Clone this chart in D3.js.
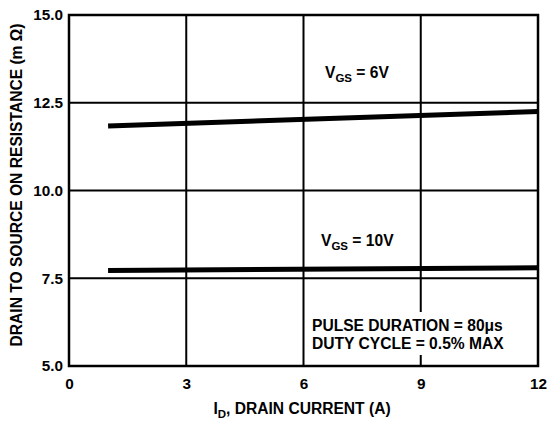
<!DOCTYPE html>
<html><head><meta charset="utf-8">
<script src="https://cdn.jsdelivr.net/npm/d3@7"></script>
<style>body{margin:0;background:#fff}text{font-family:"Liberation Sans",Arial,sans-serif;font-weight:bold;fill:#000}</style>
</head><body><svg id="c" width="551" height="422"></svg>
<script>
const xTicks = [0, 3, 6, 9, 12];
const yTicks = [5.0, 7.5, 10.0, 12.5, 15.0];
const curve6V_x = [1, 12];
const curve6V_y = [11.84, 12.25];
const curve10V_x = [1, 12];
const curve10V_y = [7.72, 7.80];

const svg = d3.select("#c");
const L = 69, R = 538, T = 15, B = 366;
const x = d3.scaleLinear().domain([0, 12]).range([L, R]);
const y = d3.scaleLinear().domain([5, 15]).range([B, T]);
const FS = 15.6;

// grid
const g = svg.append("g");
g.selectAll(".vg").data(xTicks).enter().append("line")
  .attr("x1", d => x(d)).attr("x2", d => x(d)).attr("y1", T).attr("y2", B)
  .attr("stroke", "#000").attr("stroke-width", 2);
g.selectAll(".hg").data(yTicks).enter().append("line")
  .attr("x1", L).attr("x2", R).attr("y1", d => y(d)).attr("y2", d => y(d))
  .attr("stroke", "#000").attr("stroke-width", 2);

const FF = '"Liberation Sans",Arial,sans-serif';
// axes labels
const xa = d3.axisBottom(x).tickValues(xTicks).tickSize(0).tickPadding(12).tickFormat(d3.format("d"));
const xg = svg.append("g").attr("transform", `translate(0,${B})`).call(xa);
xg.select(".domain").remove();
xg.selectAll("text").attr("font-size", 15.3).style("font-family", FF).style("font-weight", "bold");
const ya = d3.axisLeft(y).tickValues(yTicks).tickSize(0).tickPadding(6).tickFormat(d3.format(".1f"));
const yg = svg.append("g").attr("transform", `translate(${L},0)`).call(ya);
yg.select(".domain").remove();
yg.selectAll("text").attr("font-size", 15.3).style("font-family", FF).style("font-weight", "bold");

// note box (white background)
svg.append("rect").attr("x", 310).attr("y", 312).attr("width", 218).attr("height", 43).attr("fill", "#fff");
svg.append("text").attr("x", 312).attr("y", 331).attr("font-size", FS).text("PULSE DURATION = 80μs");
svg.append("text").attr("x", 312).attr("y", 349).attr("font-size", FS).text("DUTY CYCLE = 0.5% MAX");

// curves
const line = d3.line().x(d => x(d[0])).y(d => y(d[1]));
function draw(xs, ys) {
  svg.append("path").datum(xs.map((v, i) => [v, ys[i]])).attr("d", line)
    .attr("fill", "none").attr("stroke", "#000").attr("stroke-width", 5);
}
draw(curve6V_x, curve6V_y);
draw(curve10V_x, curve10V_y);

// border
svg.append("rect").attr("x", L).attr("y", T).attr("width", R - L).attr("height", B - T)
  .attr("fill", "none").attr("stroke", "#000").attr("stroke-width", 2.5);

// curve labels
function vgs(xp, yp, val) {
  const t = svg.append("text").attr("x", xp).attr("y", yp).attr("font-size", FS);
  t.append("tspan").text("V");
  t.append("tspan").attr("font-size", 11.5).attr("dy", 4).text("GS");
  t.append("tspan").attr("dy", -4).text(" = " + val);
}
vgs(325, 78, "6V");
vgs(321, 246, "10V");

// axis titles
const xt = svg.append("text").attr("x", 302).attr("y", 414).attr("text-anchor", "middle").attr("font-size", FS);
xt.append("tspan").text("I");
xt.append("tspan").attr("font-size", 11.5).attr("dy", 4).text("D");
xt.append("tspan").attr("dy", -4).text(", DRAIN CURRENT (A)");

svg.append("text").attr("transform", "translate(21.5,185) rotate(-90)").attr("text-anchor", "middle")
  .attr("font-size", FS).text("DRAIN TO SOURCE ON RESISTANCE (m Ω)");
</script></body></html>
